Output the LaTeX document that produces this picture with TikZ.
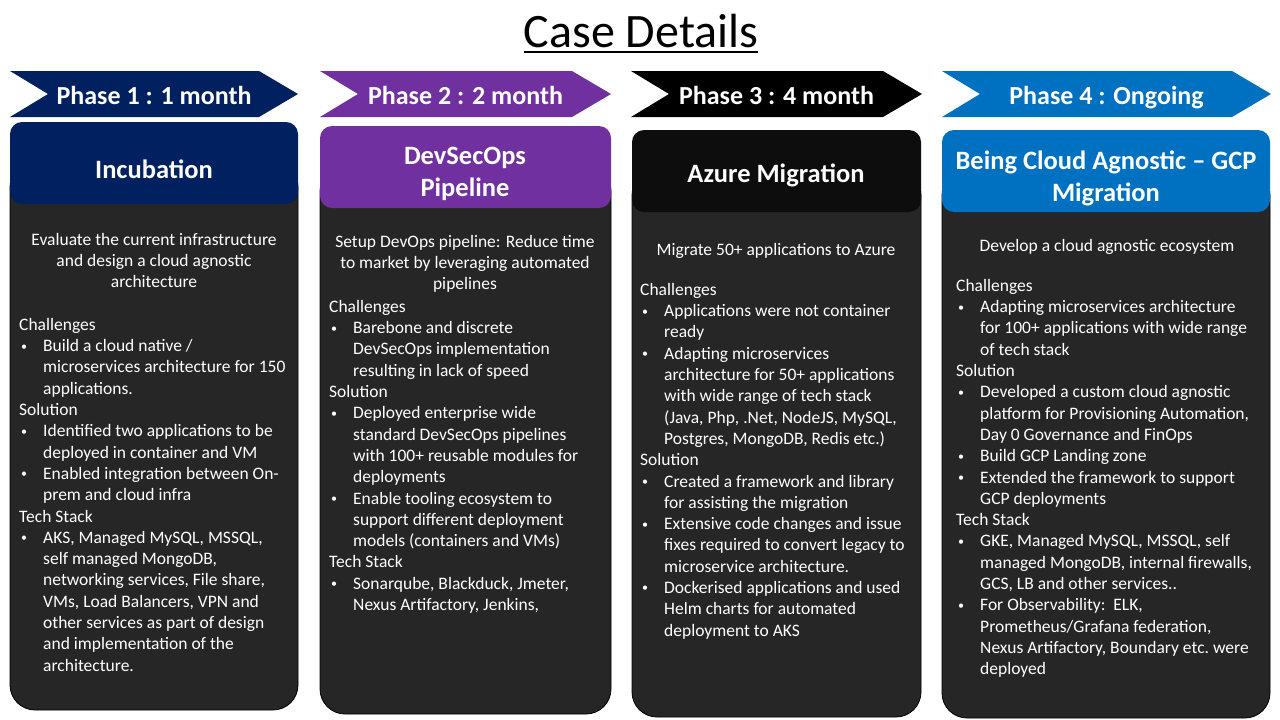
\documentclass[tikz,border=0pt]{standalone}
\usepackage{fontspec}
\setmainfont{Carlito}
\usetikzlibrary{calc}
\definecolor{navy}{HTML}{002060}
\definecolor{violet}{HTML}{7030A0}
\definecolor{inkblack}{HTML}{0D0D0D}
\definecolor{azure}{HTML}{0070C0}
\definecolor{bodygray}{HTML}{262626}
% bullet and hanging indent for the lists
\def\itm{\hspace*{2pt}\makebox[22pt][l]{\raisebox{1.6pt}{\fontsize{12}{12}\selectfont\textbullet}}}
\def\cnt{\hspace*{24pt}}
% chevron from x #1 to x #2, colour #3, node name #4, label #5
\def\phasechev(#1:#2)#3#4#5{\fill[#3] (#1,71) -- (#2-39,71) -- (#2,94) -- (#2-39,117) -- (#1,117) -- (#1+38,94) -- cycle;
	\node[phase] (#4) at ({(#1+#2)/2},104) {#5};}
% card from x #1 to x #2, header top #3, bottom #4, header colour #5
\def\card(#1:#2:#3:#4)#5{\draw[body] (#1,#3+40) rectangle (#2,#4);
	\fill[#5,rounded corners=12] (#1,#3) rectangle (#2,#3+82);}

\begin{document}
\begin{tikzpicture}[x=1pt,y=-1pt,
	phase/.style={text=white,font=\fontsize{26}{31}\selectfont\bfseries,anchor=base,inner sep=0},
	hdr/.style={text=white,font=\fontsize{26.5}{32}\selectfont\bfseries,align=center,anchor=north,inner sep=0,execute at begin node=\strut},
	txt/.style={text=white,font=\fontsize{17.5}{21.3}\selectfont,inner sep=0,execute at begin node=\strut},
	intro/.style={txt,align=center,anchor=north},
	lst/.style={txt,align=left,anchor=north west},
	body/.style={fill=bodygray,draw=black,line width=0.8,rounded corners=25}]
	%%%%% START %%%%%
	\useasboundingbox (0,0) rectangle (1280,720);
	\fill[white] (0,0) rectangle (1280,720);
	
	\node[font=\fontsize{48}{58}\selectfont,anchor=base,inner sep=0] (title) at (641,47) {Case Details};
	\draw[line width=1.6] ([yshift=-5pt]title.base west) -- ([yshift=-5pt]title.base east);
	
	\phasechev(10:298){navy}{ph1}{Phase 1 : 1 month}
	\phasechev(320:611){violet}{ph2}{Phase 2 : 2 month}
	\phasechev(631:922){black}{ph3}{Phase 3 : 4 month}
	\phasechev(942:1271){azure}{ph4}{Phase 4 : Ongoing}
	
	\card(10:298:122:710){navy}
	\card(320:611:126:714){violet}
	\card(632:921:130:717){inkblack}
	\card(942:1270:130:718){azure}
	
	\node[hdr] (inc) at (154,155.6) {Incubation};
	\node[hdr] (dso) at (465,147) {DevSecOps\\Pipeline};
	\node[hdr] (azm) at (776,159.6) {Azure Migration};
	\node[hdr] (gcp) at (1106,151) {Being Cloud Agnostic -- GCP\\Migration};
	
	% phase 1
	\node[intro] (inc-aim) at (154,233) {Evaluate the current infrastructure\\and design a cloud agnostic\\architecture};
	\node[lst] (inc-list) at (19,318) {Challenges\\
		\itm Build a cloud native /\\
		\cnt microservices architecture for 150\\
		\cnt applications.\\
		Solution\\
		\itm Identified two applications to be\\
		\cnt deployed in container and VM\\
		\itm Enabled integration between On-\\
		\cnt prem and cloud infra\\
		Tech Stack\\
		\itm AKS, Managed MySQL, MSSQL,\\
		\cnt self managed MongoDB,\\
		\cnt networking services, File share,\\
		\cnt VMs, Load Balancers, VPN and\\
		\cnt other services as part of design\\
		\cnt and implementation of the\\
		\cnt architecture.};
	
	% phase 2
	\node[intro] (dso-aim) at (465,235) {Setup DevOps pipeline: Reduce time\\to market by leveraging automated\\pipelines};
	\node[lst] (dso-list) at (329,300) {Challenges\\
		\itm Barebone and discrete\\
		\cnt DevSecOps implementation\\
		\cnt resulting in lack of speed\\
		Solution\\
		\itm Deployed enterprise wide\\
		\cnt standard DevSecOps pipelines\\
		\cnt with 100+ reusable modules for\\
		\cnt deployments\\
		\itm Enable tooling ecosystem to\\
		\cnt support different deployment\\
		\cnt models (containers and VMs)\\
		Tech Stack\\
		\itm Sonarqube, Blackduck, Jmeter,\\
		\cnt Nexus Artifactory, Jenkins,};
	
	% phase 3
	\node[intro] (azm-aim) at (776,240) {Migrate 50+ applications to Azure};
	\node[lst] (azm-list) at (640,283) {Challenges\\
		\itm Applications were not container\\
		\cnt ready\\
		\itm Adapting microservices\\
		\cnt architecture for 50+ applications\\
		\cnt with wide range of tech stack\\
		\cnt (Java, Php, .Net, NodeJS, MySQL,\\
		\cnt Postgres, MongoDB, Redis etc.)\\
		Solution\\
		\itm Created a framework and library\\
		\cnt for assisting the migration\\
		\itm Extensive code changes and issue\\
		\cnt fixes required to convert legacy to\\
		\cnt microservice architecture.\\
		\itm Dockerised applications and used\\
		\cnt Helm charts for automated\\
		\cnt deployment to AKS};
	
	% phase 4
	\node[intro] (gcp-aim) at (1107,236) {Develop a cloud agnostic ecosystem};
	\node[lst] (gcp-list) at (956,279) {Challenges\\
		\itm Adapting microservices architecture\\
		\cnt for 100+ applications with wide range\\
		\cnt of tech stack\\
		Solution\\
		\itm Developed a custom cloud agnostic\\
		\cnt platform for Provisioning Automation,\\
		\cnt Day 0 Governance and FinOps\\
		\itm Build GCP Landing zone\\
		\itm Extended the framework to support\\
		\cnt GCP deployments\\
		Tech Stack\\
		\itm GKE, Managed MySQL, MSSQL, self\\
		\cnt managed MongoDB, internal firewalls,\\
		\cnt GCS, LB and other services..\\
		\itm For Observability:\ \ ELK,\\
		\cnt Prometheus/Grafana federation,\\
		\cnt Nexus Artifactory, Boundary etc.\ were\\
		\cnt deployed};
	%%%%% END %%%%%
\end{tikzpicture}
\end{document}
